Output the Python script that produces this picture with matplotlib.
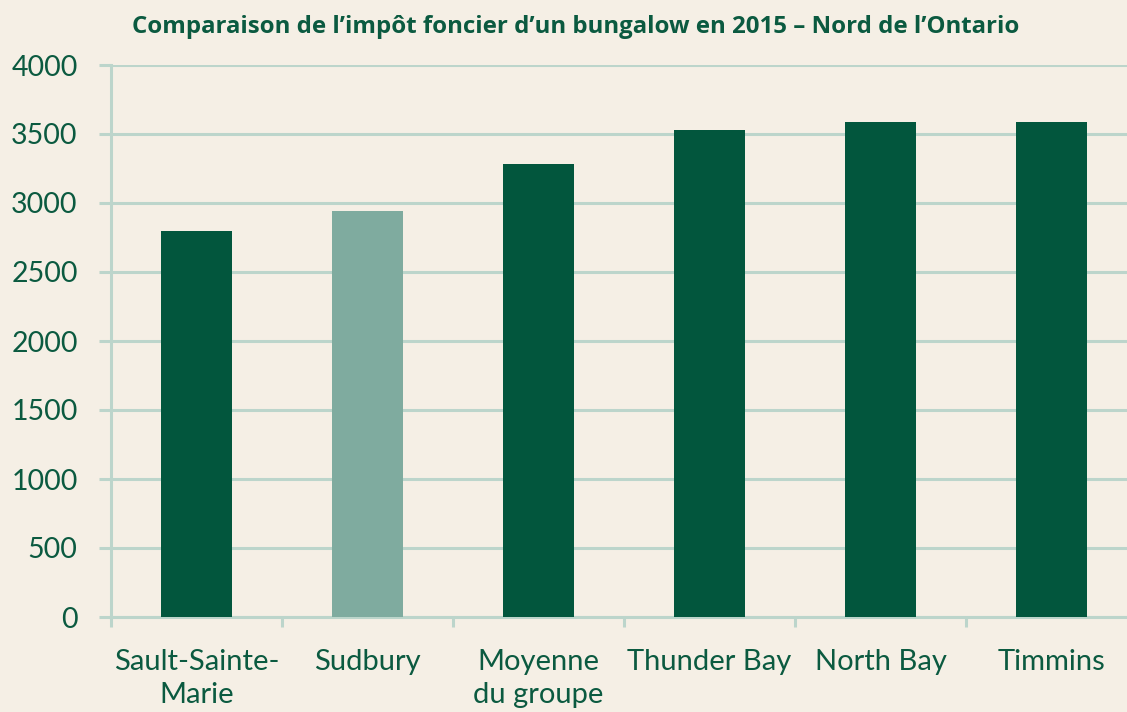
import matplotlib
matplotlib.use("Agg")
import matplotlib.pyplot as plt
import numpy as np

# Data
categories = ["Sault-Sainte-\nMarie", "Sudbury", "Moyenne\ndu groupe",
              "Thunder Bay", "North Bay", "Timmins"]
values = [2800, 2945, 3285, 3530, 3590, 3590]
highlight = [False, True, False, False, False, False]
yticks = [0, 500, 1000, 1500, 2000, 2500, 3000, 3500, 4000]
title = "Comparaison de l\u2019imp\u00f4t foncier d\u2019un bungalow en 2015 \u2013 Nord de l\u2019Ontario"

# Colours
BG = "#F5EFE5"
DARK = "#02563D"
LIGHT = "#7FAB9F"
GRID = "#BCD5CB"
TEXT = "#0B5A40"

W, H = 1127, 712
fig = plt.figure(figsize=(W / 100, H / 100), dpi=100, facecolor=BG)

# axes extends past the right edge (chart is cropped in the reference)
left, right, bottom, top = 111, 1137, 617, 65
ax = fig.add_axes([left / W, (H - bottom) / H, (right - left) / W, (bottom - top) / H])
ax.set_facecolor(BG)

x = np.arange(len(categories))
colors = [LIGHT if h else DARK for h in highlight]
ax.bar(x, values, width=0.41, color=colors, zorder=3)

ax.set_xlim(-0.5, len(categories) - 0.5)
ax.set_ylim(0, 4000)
ax.set_yticks(yticks)
ax.set_yticklabels([str(v) for v in yticks])
ax.set_xticks(x)
ax.set_xticklabels(categories)
ax.set_xticks(np.arange(len(categories) + 1) - 0.5, minor=True)

ax.yaxis.grid(True, color=GRID, linewidth=2.2, zorder=0)
ax.set_axisbelow(True)

for s in ["top", "right"]:
    ax.spines[s].set_visible(False)
for s in ["left", "bottom"]:
    ax.spines[s].set_color(GRID)
    ax.spines[s].set_linewidth(2.2)

ax.tick_params(axis="y", length=9, width=2.2, color=GRID, pad=15,
               labelsize=20.5, labelcolor=TEXT)
ax.tick_params(axis="x", which="major", length=0, pad=23,
               labelsize=21, labelcolor=TEXT)
ax.tick_params(axis="x", which="minor", length=7, width=2.2, color=GRID)
for lbl in ax.get_xticklabels() + ax.get_yticklabels():
    lbl.set_fontfamily("Lato")
for lbl in ax.get_xticklabels():
    lbl.set_linespacing(1.35)

fig.text(576 / W, 1 - 27 / H, title, ha="center", va="center",
         fontsize=17.3, fontweight="bold", color=TEXT, family="Open Sans")

fig.savefig("out.png", dpi=100, facecolor=BG)
